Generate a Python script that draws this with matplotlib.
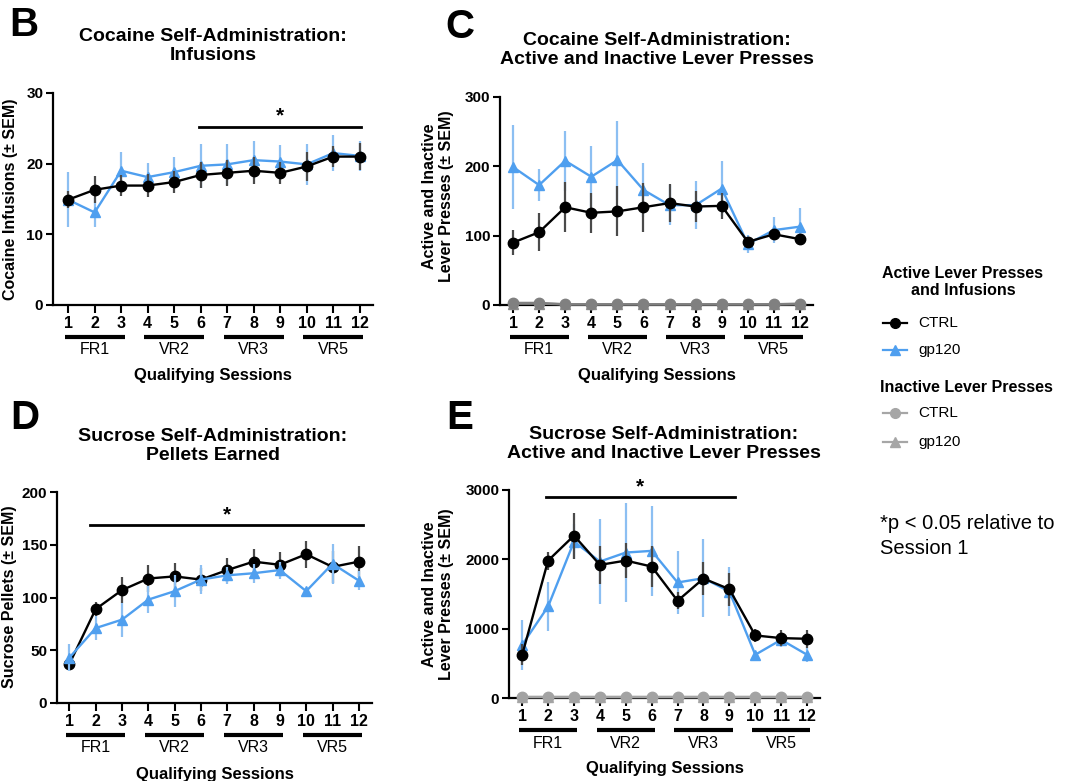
import matplotlib.pyplot as plt
import numpy as np
from matplotlib.lines import Line2D
from matplotlib.transforms import Affine2D, ScaledTranslation

plt.rcParams["font.family"] = ["Liberation Sans", "DejaVu Sans"]

W, H = 1065, 781

sessions = np.arange(1, 13)
phase_names = ["FR1", "VR2", "VR3", "VR5"]
phase_first = [1, 4, 7, 10]
phase_last = [3, 6, 9, 12]

# cocaine infusions
coc_inf_ctrl = [14.9, 16.3, 16.9, 16.9, 17.4, 18.4, 18.7, 19.0, 18.7, 19.6, 21.0, 21.0]
coc_inf_ctrl_sem = [1.2, 1.9, 1.5, 1.6, 1.5, 1.8, 1.8, 1.9, 1.6, 2.0, 1.5, 1.9]
coc_inf_gp = [14.9, 13.1, 19.0, 18.1, 18.8, 19.7, 19.9, 20.5, 20.3, 19.9, 21.5, 21.1]
coc_inf_gp_sem = [3.9, 2.0, 2.7, 2.0, 2.2, 3.1, 2.9, 2.7, 2.3, 2.9, 2.6, 2.1]

# cocaine lever presses
coc_act_ctrl = [90, 105, 141, 133, 135, 141, 147, 142, 143, 91, 102, 95]
coc_act_ctrl_sem = [18, 27, 36, 29, 36, 35, 28, 23, 19, 7, 6, 8]
coc_act_gp = [199, 173, 208, 185, 209, 166, 144, 144, 168, 88, 108, 113]
coc_act_gp_sem = [61, 23, 43, 45, 57, 39, 29, 35, 40, 13, 19, 27]
coc_inact_ctrl = [3, 3, 1, 1, 1, 1, 1, 1, 1, 1, 1, 2]
coc_inact_ctrl_sem = [2, 2, 1, 1, 1, 1, 1, 1, 1, 1, 1, 1]
coc_inact_gp = [2, 2, 1, 1, 1, 1, 1, 1, 1, 1, 1, 1]
coc_inact_gp_sem = [1, 1, 1, 1, 1, 1, 1, 1, 1, 1, 1, 1]

# sucrose pellets
suc_pel_ctrl = [37, 89, 107, 118, 120, 117, 126, 134, 131, 141, 129, 134]
suc_pel_ctrl_sem = [4, 7, 12, 13, 13, 11, 11, 12, 12, 13, 15, 15]
suc_pel_gp = [43, 71, 79, 98, 106, 117, 121, 123, 126, 106, 132, 116]
suc_pel_gp_sem = [13, 11, 16, 13, 15, 14, 8, 9, 8, 3, 19, 9]

# sucrose lever presses
suc_act_ctrl = [624, 1982, 2342, 1920, 1982, 1896, 1402, 1723, 1570, 902, 864, 854]
suc_act_ctrl_sem = [150, 130, 330, 270, 250, 290, 120, 240, 240, 100, 120, 130]
suc_act_gp = [768, 1320, 2256, 1968, 2098, 2122, 1666, 1728, 1536, 624, 840, 624]
suc_act_gp_sem = [360, 360, 250, 610, 710, 650, 460, 560, 360, 40, 100, 100]
suc_inact_ctrl = [20, 20, 20, 20, 20, 20, 20, 20, 20, 20, 20, 20]
suc_inact_ctrl_sem = [10, 10, 10, 10, 10, 10, 10, 10, 10, 10, 10, 10]
suc_inact_gp = [15, 15, 15, 15, 15, 15, 15, 15, 15, 15, 15, 15]
suc_inact_gp_sem = [8, 8, 8, 8, 8, 8, 8, 8, 8, 8, 8, 8]

BLACK = "black"
BLACK_ERR = "#4a4a4a"
BLUE = "#4f9fef"
BLUE_ERR = "#8cbff2"

fig = plt.figure(figsize=(W / 100, H / 100), dpi=100)
# pixel coordinates, origin top-left
px = Affine2D().scale(1 / W, -1 / H).translate(0, 1) + fig.transFigure


def make_axes(left, top, right, bottom, xlo, ymax, yticks):
    ax = fig.add_axes([left / W, 1 - bottom / H, (right - left) / W, (bottom - top) / H])
    ax.set_xlim(xlo, 12.5)
    ax.set_ylim(0, ymax)
    ax.set_yticks(yticks)
    ax.set_xticks(sessions)
    ax.spines[["top", "right"]].set_visible(False)
    for s in ["left", "bottom"]:
        ax.spines[s].set_linewidth(1.6)
    ax.tick_params(axis="y", length=5, width=1.5, labelsize=11, pad=2)
    ax.tick_params(axis="x", length=6, width=1.5, labelsize=11.5, pad=2)
    for lab in ax.get_xticklabels() + ax.get_yticklabels():
        lab.set_fontweight("bold")

    # phase bars under the session numbers
    bar_tr = ax.get_xaxis_transform() + ScaledTranslation(0, -0.32, fig.dpi_scale_trans)
    lab_tr = ax.get_xaxis_transform() + ScaledTranslation(0, -0.45, fig.dpi_scale_trans)
    for name, a, b in zip(phase_names, phase_first, phase_last):
        ax.plot([a - 0.13, b + 0.13], [0, 0], color="black", lw=3,
                solid_capstyle="butt", transform=bar_tr, clip_on=False)
        ax.text((a + b) / 2, 0, name, transform=lab_tr, ha="center", va="center",
                fontsize=11.5)
    xl_tr = ax.transAxes + ScaledTranslation(0, -0.71, fig.dpi_scale_trans)
    ax.text(0.5, 0, "Qualifying Sessions", transform=xl_tr, ha="center", va="center",
            fontsize=12, fontweight="bold")
    return ax


def series(ax, y, sem, color, ecolor, marker, z, ms=7.5):
    cont = ax.errorbar(sessions, y, yerr=sem, color=color, ecolor=ecolor, elinewidth=1.6,
                       capsize=0, marker=marker, ms=ms, lw=1.7, zorder=z)
    for art in cont.get_children():
        art.set_clip_on(False)
    cont[0].set_zorder(z + 0.5)


def sig_bar(ax, x0, x1, y, ystar):
    ax.plot([x0, x1], [y, y], color="black", lw=2, clip_on=False)
    ax.text((x0 + x1) / 2, ystar, "*", ha="center", va="center", fontsize=15,
            fontweight="bold", clip_on=False)


# B: cocaine infusions
axB = make_axes(53, 93, 373, 305, 0.43, 30, [0, 10, 20, 30])
series(axB, coc_inf_gp, coc_inf_gp_sem, BLUE, BLUE_ERR, "^", 3)
series(axB, coc_inf_ctrl, coc_inf_ctrl_sem, BLACK, BLACK_ERR, "o", 4)
sig_bar(axB, 5.95, 12.05, 25.2, 26.8)

# C: cocaine lever presses
axC = make_axes(500, 97, 813, 305, 0.5, 300, [0, 100, 200, 300])
series(axC, coc_inact_gp, coc_inact_gp_sem, "#8a8a8a", "#8a8a8a", "^", 5)
series(axC, coc_inact_ctrl, coc_inact_ctrl_sem, "#808080", "#808080", "o", 5)
series(axC, coc_act_gp, coc_act_gp_sem, BLUE, BLUE_ERR, "^", 3)
series(axC, coc_act_ctrl, coc_act_ctrl_sem, BLACK, BLACK_ERR, "o", 4)

# D: sucrose pellets
axD = make_axes(57, 492, 372, 703, 0.53, 200, [0, 50, 100, 150, 200])
series(axD, suc_pel_ctrl, suc_pel_ctrl_sem, BLACK, BLACK_ERR, "o", 3)
series(axD, suc_pel_gp, suc_pel_gp_sem, BLUE, BLUE_ERR, "^", 4)
sig_bar(axD, 1.8, 12.15, 168.5, 178)

# E: sucrose lever presses
axE = make_axes(509, 490, 820, 698, 0.49, 3000, [0, 1000, 2000, 3000])
series(axE, suc_inact_gp, suc_inact_gp_sem, "#a8a8a8", "#a8a8a8", "^", 5)
series(axE, suc_inact_ctrl, suc_inact_ctrl_sem, "#a3a3a3", "#a3a3a3", "o", 5)
series(axE, suc_act_gp, suc_act_gp_sem, BLUE, BLUE_ERR, "^", 3)
series(axE, suc_act_ctrl, suc_act_ctrl_sem, BLACK, BLACK_ERR, "o", 4)
sig_bar(axE, 1.9, 9.2, 2894, 3040)

# panel letters, titles and y labels
for letter, x, y in [("B", 24, 25), ("C", 460, 27), ("D", 25, 418), ("E", 460, 418)]:
    fig.text(x, y, letter, transform=px, ha="center", va="center", fontsize=29,
             fontweight="bold")

titles = [
    ("Cocaine Self-Administration:\nInfusions", 213, 46),
    ("Cocaine Self-Administration:\nActive and Inactive Lever Presses", 657, 50),
    ("Sucrose Self-Administration:\nPellets Earned", 213, 446),
    ("Sucrose Self-Administration:\nActive and Inactive Lever Presses", 664, 444),
]
for text, x, y in titles:
    fig.text(x, y, text, transform=px, ha="center", va="center", fontsize=14,
             fontweight="bold", linespacing=1.12)

ylabels = [
    ("Cocaine Infusions (± SEM)", 11, 199),
    ("Active and Inactive\nLever Presses (± SEM)", 438, 196),
    ("Sucrose Pellets (± SEM)", 10, 597),
    ("Active and Inactive\nLever Presses (± SEM)", 438, 594),
]
for text, x, y in ylabels:
    fig.text(x, y, text, transform=px, ha="center", va="center", rotation=90,
             fontsize=11.5, fontweight="bold", linespacing=1.2)

# legend
fig.text(963, 282, "Active Lever Presses\nand Infusions", transform=px, ha="center",
         va="center", fontsize=11.5, fontweight="bold", linespacing=1.2)
fig.text(880, 387, "Inactive Lever Presses", transform=px, ha="left", va="center",
         fontsize=11.5, fontweight="bold")
legend_rows = [
    (323, BLACK, "o", "CTRL"),
    (350, BLUE, "^", "gp120"),
    (413, "#a6a6a6", "o", "CTRL"),
    (442, "#a6a6a6", "^", "gp120"),
]
for y, color, marker, label in legend_rows:
    fig.add_artist(Line2D([883, 895, 907], [y, y, y], transform=px, color=color, lw=1.6,
                          marker=marker, ms=7, markevery=[1]))
    fig.text(918, y, label, transform=px, ha="left", va="center", fontsize=11)

fig.text(880, 536, "*p < 0.05 relative to\nSession 1", transform=px, ha="left",
         va="center", fontsize=14.5, linespacing=1.4)

fig.savefig("out.png", dpi=100)
